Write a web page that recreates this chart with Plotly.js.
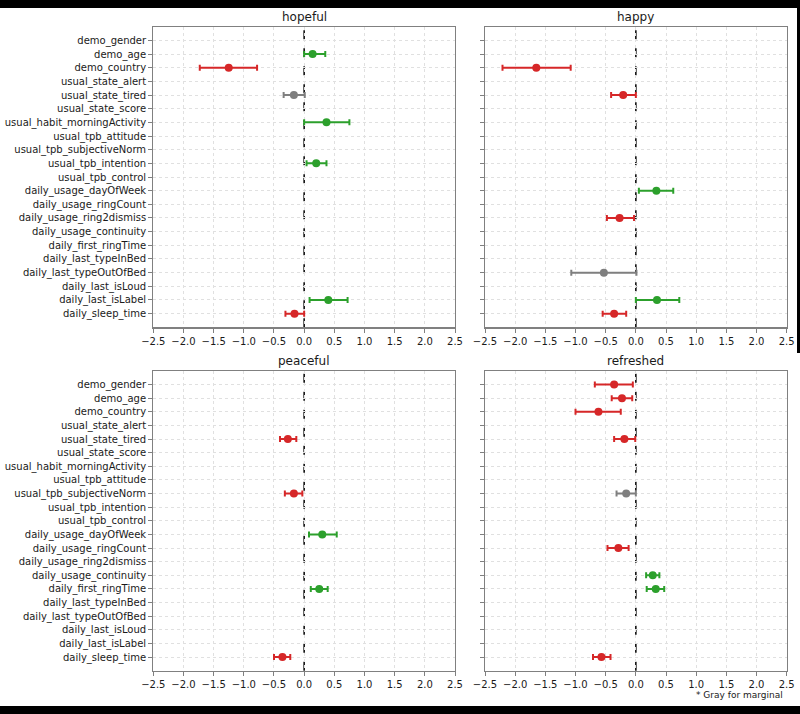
<!DOCTYPE html>
<html>
<head>
<meta charset="utf-8">
<script src="https://cdn.plot.ly/plotly-3.0.1.min.js"></script>
<style>
  html, body { margin: 0; padding: 0; background: #fff; }
  #chart { width: 800px; height: 714px; }
</style>
</head>
<body>
<div id="chart"></div>
<script>
// coefficient plots, 4 emotions
const CATS = [
  'demo_gender', 'demo_age', 'demo_country',
  'usual_state_alert', 'usual_state_tired', 'usual_state_score',
  'usual_habit_morningActivity', 'usual_tpb_attitude', 'usual_tpb_subjectiveNorm',
  'usual_tpb_intention', 'usual_tpb_control',
  'daily_usage_dayOfWeek', 'daily_usage_ringCount', 'daily_usage_ring2dismiss',
  'daily_usage_continuity', 'daily_first_ringTime', 'daily_last_typeInBed',
  'daily_last_typeOutOfBed', 'daily_last_isLoud', 'daily_last_isLabel', 'daily_sleep_time',
];
const X_TICKS = [-2.5, -2.0, -1.5, -1.0, -0.5, 0.0, 0.5, 1.0, 1.5, 2.0, 2.5];

// hopeful
const hopefulVars = ['demo_age', 'demo_country', 'usual_state_tired', 'usual_habit_morningActivity', 'usual_tpb_intention', 'daily_last_isLabel', 'daily_sleep_time'];
const hopefulCoef = [0.14, -1.25, -0.17, 0.37, 0.20, 0.40, -0.16];
const hopefulLo   = [0.00, -1.73, -0.34, 0.00, 0.04, 0.09, -0.31];
const hopefulHi   = [0.35, -0.78, 0.01, 0.75, 0.37, 0.72, 0.00];
const hopefulMarg = [false, false, true, false, false, false, false];

// happy
const happyVars = ['demo_country', 'usual_state_tired', 'daily_usage_dayOfWeek', 'daily_usage_ring2dismiss', 'daily_last_typeOutOfBed', 'daily_last_isLabel', 'daily_sleep_time'];
const happyCoef = [-1.65, -0.21, 0.34, -0.27, -0.53, 0.35, -0.36];
const happyLo   = [-2.21, -0.41, 0.05, -0.48, -1.07, 0.00, -0.55];
const happyHi   = [-1.08, 0.00, 0.62, -0.03, 0.01, 0.72, -0.16];
const happyMarg = [false, false, false, false, true, false, false];

// peaceful
const peacefulVars = ['usual_state_tired', 'usual_tpb_subjectiveNorm', 'daily_usage_dayOfWeek', 'daily_first_ringTime', 'daily_sleep_time'];
const peacefulCoef = [-0.27, -0.17, 0.30, 0.25, -0.36];
const peacefulLo   = [-0.40, -0.32, 0.08, 0.11, -0.50];
const peacefulHi   = [-0.13, -0.03, 0.54, 0.39, -0.23];
const peacefulMarg = [false, false, false, false, false];

// refreshed
const refreshedVars = ['demo_gender', 'demo_age', 'demo_country', 'usual_state_tired', 'usual_tpb_subjectiveNorm', 'daily_usage_ringCount', 'daily_usage_continuity', 'daily_first_ringTime', 'daily_sleep_time'];
const refreshedCoef = [-0.36, -0.23, -0.62, -0.19, -0.16, -0.29, 0.28, 0.33, -0.57];
const refreshedLo   = [-0.68, -0.40, -1.00, -0.36, -0.32, -0.47, 0.17, 0.18, -0.71];
const refreshedHi   = [-0.05, -0.06, -0.25, -0.01, 0.00, -0.12, 0.39, 0.47, -0.42];
const refreshedMarg = [false, false, false, false, true, false, false, false, false];

const COLORS = { neg: '#d62728', pos: '#2ca02c', marg: '#7f7f7f' };
const FONT = 'DejaVu Sans, sans-serif';
const W = 800, H = 714;

const PANELS = [
  { title: 'hopeful',   vars: hopefulVars,   coef: hopefulCoef,   lo: hopefulLo,   hi: hopefulHi,   marg: hopefulMarg,   ax: '' },
  { title: 'happy',     vars: happyVars,     coef: happyCoef,     lo: happyLo,     hi: happyHi,     marg: happyMarg,     ax: '2' },
  { title: 'peaceful',  vars: peacefulVars,  coef: peacefulCoef,  lo: peacefulLo,  hi: peacefulHi,  marg: peacefulMarg,  ax: '3' },
  { title: 'refreshed', vars: refreshedVars, coef: refreshedCoef, lo: refreshedLo, hi: refreshedHi, marg: refreshedMarg, ax: '4' },
];

// pixel boxes -> paper domains
const colX = [[153.3, 455], [485, 786.7]];
const rowY = [[26.7, 327.3], [371, 670.7]];
const xDom = c => [colX[c][0] / W, colX[c][1] / W];
const yDom = r => [1 - rowY[r][1] / H, 1 - rowY[r][0] / H];

const traces = [];
PANELS.forEach(p => {
  ['neg', 'pos', 'marg'].forEach(kind => {
    const idx = p.coef.map((v, i) => i).filter(i =>
      kind === 'marg' ? p.marg[i] : (!p.marg[i] && (kind === 'neg' ? p.coef[i] < 0 : p.coef[i] >= 0)));
    if (!idx.length) return;
    traces.push({
      type: 'scatter', mode: 'markers',
      x: idx.map(i => p.coef[i]),
      y: idx.map(i => p.vars[i]),
      xaxis: 'x' + p.ax, yaxis: 'y' + p.ax,
      marker: { color: COLORS[kind], size: 8 },
      error_x: {
        type: 'data', symmetric: false,
        array: idx.map(i => p.hi[i] - p.coef[i]),
        arrayminus: idx.map(i => p.coef[i] - p.lo[i]),
        color: COLORS[kind], thickness: 2, width: 3,
      },
      showlegend: false, hoverinfo: 'x+y',
    });
  });
});

const layout = {
  width: W, height: H,
  margin: { l: 0, r: 0, t: 0, b: 0 },
  paper_bgcolor: '#fff', plot_bgcolor: '#fff',
  font: { family: FONT, size: 10, color: '#1a1a1a' },
  showlegend: false,
  shapes: [], annotations: [],
};

PANELS.forEach((p, k) => {
  const c = k % 2, r = Math.floor(k / 2);
  const xa = 'xaxis' + p.ax, ya = 'yaxis' + p.ax;
  layout[xa] = {
    domain: xDom(c), anchor: 'y' + p.ax,
    range: [-2.5, 2.5], tickvals: X_TICKS, ticktext: X_TICKS.map(v => (v < 0 ? '\u2212' : '') + Math.abs(v).toFixed(1)),
    showgrid: true, gridcolor: '#e0e0e0', griddash: 'dot', gridwidth: 1,
    zeroline: false, showline: true, mirror: true, linecolor: '#808080', linewidth: 1.2,
    ticks: 'outside', ticklen: 4, tickcolor: '#808080',
    tickfont: { family: FONT, size: 10, color: '#1a1a1a' }, fixedrange: true,
  };
  layout[ya] = {
    domain: yDom(r), anchor: 'x' + p.ax,
    type: 'category', categoryorder: 'array', categoryarray: CATS,
    tickvals: CATS, range: [CATS.length, -1],
    showticklabels: c === 0,
    showgrid: true, gridcolor: '#e0e0e0', griddash: 'dot', gridwidth: 1,
    zeroline: false, showline: true, mirror: true, linecolor: '#808080', linewidth: 1.2,
    ticks: 'outside', ticklen: 4, tickcolor: '#808080',
    tickfont: { family: FONT, size: 10, color: '#1a1a1a' }, fixedrange: true,
  };
  // zero reference
  layout.shapes.push({
    type: 'line', xref: 'x' + p.ax, yref: 'y' + p.ax + ' domain',
    x0: 0, x1: 0, y0: 0, y1: 1,
    line: { color: '#000', width: 1.5, dash: 'dash' }, layer: 'below',
  });
  layout.annotations.push({
    text: p.title, xref: 'paper', yref: 'paper',
    x: (xDom(c)[0] + xDom(c)[1]) / 2, y: yDom(r)[1],
    xanchor: 'center', yanchor: 'bottom', yshift: 1, showarrow: false,
    font: { family: FONT, size: 12, color: '#1a1a1a' },
  });
});

layout.annotations.push({
  text: '* Gray for marginal', xref: 'paper', yref: 'paper',
  x: 785 / W, y: 1 - 695 / H, xanchor: 'right', yanchor: 'middle',
  showarrow: false, font: { family: FONT, size: 9, color: '#1a1a1a' },
});

// black frame strips from the screenshot
const black = { type: 'rect', xref: 'paper', yref: 'paper', fillcolor: '#000', line: { width: 0 }, layer: 'above' };
layout.shapes.push(
  { ...black, x0: 0, x1: 1, y0: 1 - 8 / H, y1: 1 },
  { ...black, x0: 0, x1: 1, y0: 0, y1: 1 - 706 / H },
  { ...black, x0: 797 / W, x1: 1, y0: 1 - 353 / H, y1: 1 },
);

Plotly.newPlot('chart', traces, layout, { displayModeBar: false, staticPlot: true });
</script>
</body>
</html>
